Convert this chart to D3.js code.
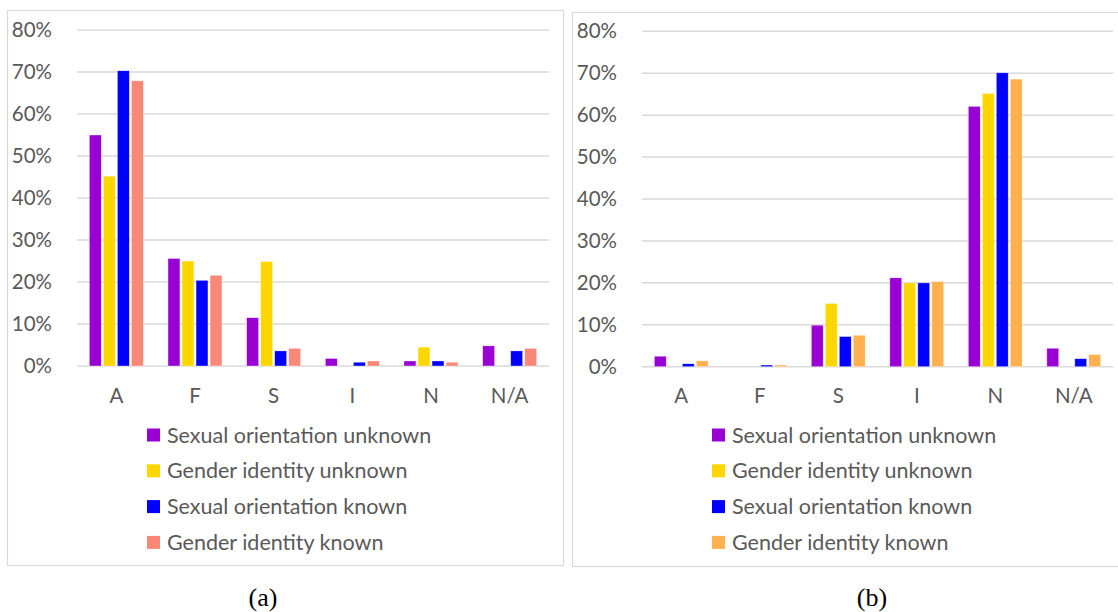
<!DOCTYPE html>
<meta charset="utf-8">
<style>
  body { margin: 0; background: #fff; }
  svg { display: block; }
  .tick text, .cat text { font-family: Lato, sans-serif; fill: #595959; }
  .legend text { font-family: Lato, sans-serif; fill: #595959; }
  .caption { font-family: "Liberation Serif", "Times New Roman", serif; fill: #000; }
</style>
<body>
<div id="chart"></div>
<script src="https://cdn.jsdelivr.net/npm/d3@7"></script>
<script>

  // categories and series
  var categories = ["A", "F", "S", "I", "N", "N/A"];
  var seriesNames = ["Sexual orientation unknown", "Gender identity unknown",
    "Sexual orientation known", "Gender identity known"];
  var yTicks = [0, 10, 20, 30, 40, 50, 60, 70, 80];

  // panel (a) values, in percent, one array per series
  var aSexUnknown = [55.0, 25.6, 11.5, 1.8, 1.2, 4.8];
  var aGenUnknown = [45.2, 25.0, 24.9, 0, 4.5, 0];
  var aSexKnown = [70.3, 20.4, 3.6, 0.9, 1.2, 3.6];
  var aGenKnown = [67.9, 21.6, 4.2, 1.2, 0.9, 4.2];

  // panel (b) values
  var bSexUnknown = [2.5, 0, 9.9, 21.2, 62.1, 4.4];
  var bGenUnknown = [0, 0, 15.1, 20.0, 65.2, 0];
  var bSexKnown = [0.7, 0.4, 7.2, 20.0, 70.1, 1.9];
  var bGenKnown = [1.4, 0.4, 7.5, 20.3, 68.6, 2.9];

  var colorsA = ["#9900d4", "#ffd700", "#0000ff", "#fa8877"];
  var colorsB = ["#9900d4", "#ffd700", "#0000ff", "#ffb04f"];

  var svg = d3.select("#chart").append("svg")
    .attr("width", 1118)
    .attr("height", 612);

  svg.append("rect").attr("width", 1118).attr("height", 612).attr("fill", "#fff");

  function drawPanel(p) {
    // panel border
    svg.append("rect")
      .attr("x", p.box[0] + 0.5).attr("y", p.box[1] + 0.5)
      .attr("width", p.box[2]).attr("height", p.box[3])
      .attr("fill", "none").attr("stroke", "#d9d9d9").attr("stroke-width", 1.2);

    var x = d3.scaleBand().domain(categories).range([p.left, p.right]);
    var xs = d3.scaleBand().domain(seriesNames)
      .range([x.bandwidth() * 0.157, x.bandwidth() * 0.843])
      .paddingInner(0.15);
    var y = d3.scaleLinear().domain([0, 80]).range([p.zero, p.top]);

    // gridlines
    svg.append("g")
      .selectAll("line")
      .data(yTicks)
      .enter().append("line")
      .attr("x1", p.left).attr("x2", p.right)
      .attr("y1", function (d) { return y(d); })
      .attr("y2", function (d) { return y(d); })
      .attr("stroke", "#d9d9d9").attr("stroke-width", 1.5);

    // y labels
    var yAxis = svg.append("g")
      .attr("transform", "translate(" + (p.left - 22) + ",0)")
      .call(d3.axisLeft(y).tickValues(yTicks).tickSize(0).tickFormat(function (d) { return d + "%"; }));
    yAxis.select(".domain").remove();
    yAxis.selectAll("text").style("font-size", "20.5px");

    // x labels
    var xAxis = svg.append("g")
      .attr("class", "cat")
      .attr("transform", "translate(0," + (p.zero + 19) + ")")
      .call(d3.axisBottom(x).tickSize(0));
    xAxis.select(".domain").remove();
    xAxis.selectAll("text").style("font-size", "20.5px")
      .style("font-family", "Lato, sans-serif").style("fill", "#595959");

    // bars
    var groups = svg.append("g")
      .selectAll("g")
      .data(p.series)
      .enter().append("g")
      .attr("fill", function (d, i) { return p.colors[i]; });

    groups.selectAll("rect")
      .data(function (d, i) { return d.map(function (v, j) { return { s: seriesNames[i], c: categories[j], v: v }; }); })
      .enter().append("rect")
      .filter(function (d) { return d.v > 0; })
      .attr("x", function (d) { return x(d.c) + xs(d.s); })
      .attr("y", function (d) { return y(d.v); })
      .attr("width", xs.bandwidth())
      .attr("height", function (d) { return y(0) - y(d.v); })
      .attr("stroke", "#fff").attr("stroke-opacity", 0.6).attr("stroke-width", 0.6);

    // legend
    var legend = svg.append("g").attr("class", "legend")
      .selectAll("g")
      .data(seriesNames)
      .enter().append("g")
      .attr("transform", function (d, i) { return "translate(" + p.legendX + "," + (p.legendY + i * 35.8) + ")"; });
    legend.append("rect")
      .attr("x", 0).attr("y", -6.5).attr("width", 13).attr("height", 13)
      .attr("fill", function (d, i) { return p.colors[i]; });
    legend.append("text")
      .attr("x", 20).attr("dy", "0.35em")
      .style("font-size", "21.5px")
      .text(function (d) { return d; });

    svg.append("text").attr("class", "caption")
      .attr("x", p.captionX).attr("y", 606)
      .attr("text-anchor", "middle")
      .style("font-size", "26px")
      .text(p.caption);
  }

  drawPanel({
    box: [7, 10, 556, 555], left: 77, right: 549, top: 30, zero: 366,
    series: [aSexUnknown, aGenUnknown, aSexKnown, aGenKnown], colors: colorsA,
    legendX: 147, legendY: 435, captionX: 263, caption: "(a)"
  });

  drawPanel({
    box: [572, 12, 560, 554], left: 642, right: 1113, top: 31.3, zero: 366.7,
    series: [bSexUnknown, bGenUnknown, bSexKnown, bGenKnown], colors: colorsB,
    legendX: 712, legendY: 435, captionX: 872, caption: "(b)"
  });

</script>
</body>
